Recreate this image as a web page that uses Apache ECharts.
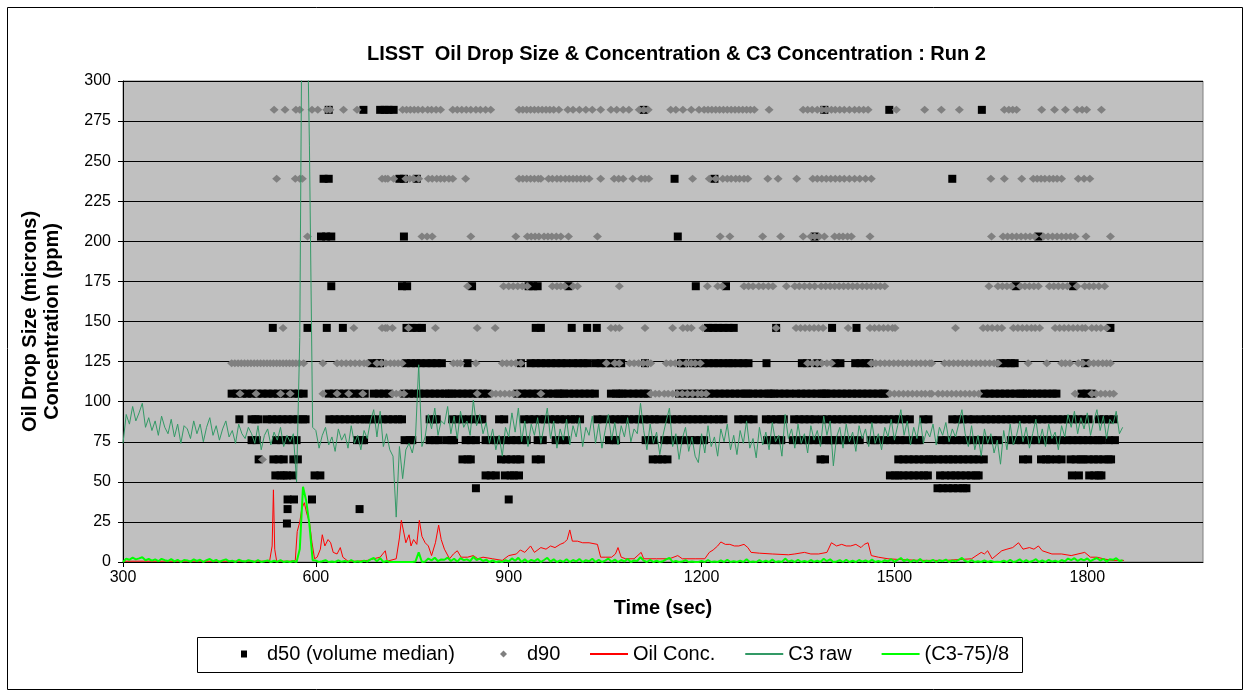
<!DOCTYPE html>
<html><head><meta charset="utf-8">
<script src="https://cdn.jsdelivr.net/npm/echarts@6/dist/echarts.min.js"></script>
<style>html,body{margin:0;padding:0;background:#fff}#c{width:1251px;height:698px}</style>
</head><body><div id="c"></div>
<script>
// ---------- DATA ----------
const xTickLabels = [300, 600, 900, 1200, 1500, 1800];
const yTickStep = 25;

// C3 raw, sampled every 5 s from 300 s
const c3Start = 300, c3Step = 5;
const c3Raw = [
 74,92,86,97,88,93,99,84,90,82,88,79,91,84,80,89,78,86,74,85,
 83,77,88,80,86,75,84,90,79,85,76,83,88,78,82,74,86,80,77,84,
 80,74,85,70,79,83,73,81,76,84,72,79,75,80,50,140,450,380,260,84,
 82,71,79,84,73,78,69,83,76,80,71,85,74,79,70,82,77,88,95,78,
 94,72,80,70,66,28,72,52,70,74,68,78,123,72,78,92,83,96,79,88,
 86,97,80,91,77,94,84,88,79,101,85,92,80,87,74,83,70,79,66,84,
 78,93,81,96,75,88,72,86,79,90,74,85,96,77,88,71,83,76,89,73,
 85,78,90,72,84,79,91,74,86,71,82,92,76,87,73,85,78,90,75,83,
 80,99,82,70,86,74,81,67,79,88,96,72,80,64,77,84,69,78,66,62,
 80,68,85,72,78,66,83,75,86,70,79,67,82,74,88,71,77,65,84,73,
 81,70,87,75,79,66,92,77,83,71,86,74,80,68,85,76,82,72,91,79,
 88,60,78,84,71,86,75,81,69,85,77,83,72,87,74,80,70,84,78,89,
 76,85,95,79,88,73,84,77,90,74,82,78,86,73,84,79,87,75,83,78,
 86,95,80,72,85,70,79,66,83,74,80,68,76,61,82,70,86,73,79,88,
 75,84,71,80,89,74,83,72,86,77,81,70,85,78,92,84,94,80,90,83,
 93,79,88,95,82,91,77,89,86,94,80,84
];

// Oil concentration (ppm)
const oilTime = [300,400,500,528,532,534,536,539,560,568,571,575,578,582,586,590,594,598,602,607,610,614,619,623,627,633,638,642,650,665,680,690,700,708,711,725,730,733,736,740,745,748,752,757,761,765,770,775,780,786,791,795,800,808,814,820,826,836,845,852,860,875,890,900,912,918,925,934,940,950,958,965,972,980,986,991,995,999,1007,1015,1025,1038,1043,1050,1060,1066,1070,1075,1082,1095,1106,1110,1130,1150,1163,1170,1190,1205,1212,1218,1225,1230,1237,1244,1251,1258,1266,1272,1277,1290,1310,1335,1345,1360,1370,1382,1395,1402,1410,1418,1425,1432,1440,1448,1453,1459,1464,1475,1490,1510,1540,1580,1620,1635,1640,1645,1652,1667,1675,1684,1693,1700,1710,1717,1724,1730,1745,1760,1775,1796,1805,1815,1825,1838,1857];
const oilConc = [0.5,0.5,0.5,0.5,10,45,8,0.5,0.5,1,19,25,33,37,30,25,12,2,3,8,17,10,14,12,6,5,9,3,0.5,0.5,1,2,3,7,0.5,2,15,26,20,12,17,10,14,11,26,16,12,10,4,12,23,14,8,2,5,7,3,3,4,2,3,2,1,4,5,7.5,6,10,6,9,8,10,9,11,12,14,20,13,13,12,12,11,3,3,3,5,9,3,2,2,6,2,2,2,4,2,2,2,6,7.5,10,12.5,11,11,10,10,11,9,6,5.5,5,4.5,5,6,5,5,6,12,10,11,10,10,11,9,11,12,4,3,2,1.5,1,1,2,6,5,7,2,7,8,9,12,8,9,8,10,7,5,5,4,6,3,3,2,1,1];

// d50 (volume median) times per size bin (microns)
const d50_282 = [620,674,700,707,713,721,1110,1391,1492,1636];
const d50_239 = [612,620,730,737,757,1158,1220,1590];
const d50_203 = [608,616,624,737,1163,1376,1724];
const d50_172 = [624,734,742,843,931,938,945,993,1191,1238,1689,1778];
const d50_146 = [533,587,617,642,741,749,757,765,942,950,998,1022,1037,1210,1218,1226,1234,1242,1250,1316,1403,1441,1836];
const d50_124 = [687,695,700,740,748,756,763,772,780,788,796,836,919,934,942,950,958,966,974,982,990,1000,1008,1016,1023,1035,1043,1051,1059,1067,1075,1112,1168,1173,1187,1195,1203,1211,1219,1226,1234,1242,1248,1257,1265,1273,1301,1356,1364,1380,1408,1416,1439,1447,1455,1461,1665,1673,1681,1687,1797];
const d50_105 = [469,477,485,493,501,509,517,525,533,541,549,557,565,573,581,620,628,636,644,652,660,668,676,690,698,706,714,737,745,753,761,769,777,785,793,801,807,812,820,828,836,844,852,860,867,913,921,929,937,945,953,961,969,977,981,986,994,1002,1010,1018,1026,1034,1059,1067,1072,1077,1085,1094,1102,1110,1116,1165,1175,1185,1194,1204,1212,1220,1228,1236,1244,1252,1260,1268,1272,1280,1288,1296,1304,1308,1313,1321,1329,1337,1347,1355,1363,1371,1379,1387,1391,1394,1402,1410,1418,1426,1434,1442,1450,1458,1466,1474,1482,1485,1640,1648,1656,1664,1672,1680,1688,1696,1700,1706,1714,1722,1730,1738,1746,1752,1791,1799,1807];
const d50_89 = [481,500,506,511,524,532,540,548,556,564,572,580,584,621,629,637,645,653,661,669,676,682,688,696,704,712,720,728,734,777,785,788,812,820,828,838,846,854,859,885,893,924,932,940,948,956,964,972,980,988,997,1003,1011,1038,1046,1058,1066,1074,1080,1087,1095,1103,1111,1119,1127,1134,1146,1154,1162,1170,1178,1186,1194,1202,1210,1219,1227,1234,1257,1265,1273,1281,1300,1308,1316,1324,1328,1344,1352,1360,1368,1376,1387,1395,1403,1411,1419,1427,1435,1443,1451,1459,1467,1475,1483,1491,1499,1507,1516,1524,1545,1553,1590,1598,1606,1615,1623,1634,1642,1650,1658,1666,1674,1682,1690,1698,1706,1714,1722,1730,1738,1746,1754,1762,1770,1778,1786,1794,1802,1818,1826,1834,1841];
const d50_76 = [500,508,538,546,554,562,570,664,672,675,738,746,750,777,785,791,803,811,815,833,841,849,864,872,880,888,896,904,912,920,928,945,953,973,981,989,1056,1064,1067,1113,1121,1126,1142,1150,1158,1166,1174,1182,1190,1198,1204,1302,1310,1318,1324,1342,1350,1358,1366,1374,1382,1390,1398,1402,1406,1415,1421,1429,1437,1446,1463,1470,1474,1485,1493,1501,1509,1517,1528,1536,1539,1573,1581,1589,1597,1605,1613,1621,1629,1637,1645,1653,1661,1681,1689,1697,1705,1713,1721,1729,1737,1745,1753,1761,1769,1777,1785,1793,1801,1809,1817,1822,1834,1843];
const d50_64 = [511,534,542,550,565,572,828,836,841,888,896,904,912,918,942,950,1124,1132,1139,1147,1385,1392,1506,1514,1522,1530,1538,1546,1554,1559,1568,1576,1584,1591,1599,1607,1615,1623,1631,1639,1700,1708,1728,1736,1742,1752,1760,1774,1782,1790,1794,1802,1810,1817,1825,1833,1837];
const d50_54 = [537,545,550,555,564,598,607,864,872,880,894,903,908,916,1493,1501,1506,1514,1522,1530,1538,1546,1552,1571,1579,1588,1595,1603,1611,1619,1627,1631,1776,1787,1803,1811,1818,1822];
const d50_46 = [849,1567,1575,1583,1591,1599,1607,1612];
const d50_39 = [556,566,594,900];
const d50_33 = [556,668];
const d50_24 = [555];

// d90 times per size bin (microns)
const d90_282 = [535,552,569,575,594,603,617,622,643,664,735,741,747,753,759,766,774,780,787,794,813,820,827,834,841,849,856,864,872,916,922,928,934,940,946,952,958,964,970,978,992,1000,1010,1020,1030,1043,1059,1068,1078,1087,1103,1110,1117,1152,1160,1171,1184,1196,1204,1210,1216,1222,1228,1234,1240,1246,1252,1258,1264,1270,1276,1282,1305,1358,1365,1372,1380,1387,1394,1402,1408,1415,1422,1430,1438,1445,1452,1459,1503,1547,1573,1601,1671,1678,1684,1690,1729,1749,1766,1784,1792,1799,1822];
const d90_239 = [539,568,575,579,703,708,712,721,740,746,752,760,775,781,788,794,800,807,813,833,916,922,928,934,940,946,950,962,968,975,981,988,994,1000,1006,1012,1018,1025,1043,1064,1071,1078,1093,1106,1112,1118,1186,1212,1222,1233,1240,1246,1253,1259,1266,1272,1303,1319,1348,1373,1380,1387,1394,1401,1408,1415,1422,1430,1438,1446,1455,1464,1650,1671,1698,1716,1722,1728,1734,1741,1747,1753,1760,1786,1795,1804];
const d90_203 = [587,765,773,781,841,911,929,935,941,947,955,961,967,974,981,993,1038,1229,1244,1295,1323,1358,1370,1376,1383,1391,1407,1414,1420,1427,1433,1462,1651,1669,1676,1683,1690,1697,1704,1711,1718,1732,1739,1746,1753,1760,1767,1774,1781,1798,1836];
const d90_172 = [836,892,900,907,914,921,929,968,975,981,987,1000,1007,1072,1209,1225,1232,1266,1273,1280,1289,1296,1304,1311,1332,1345,1352,1360,1368,1376,1386,1393,1400,1407,1414,1421,1428,1435,1442,1450,1457,1464,1471,1478,1485,1647,1661,1668,1675,1682,1696,1703,1710,1717,1724,1741,1748,1755,1762,1769,1784,1796,1803,1810,1818,1827];
const d90_146 = [549,659,703,708,711,719,744,786,851,879,1059,1066,1072,1112,1155,1171,1178,1184,1202,1316,1347,1354,1361,1368,1375,1382,1389,1428,1462,1469,1476,1483,1490,1497,1501,1595,1638,1645,1652,1660,1667,1685,1692,1699,1706,1713,1719,1726,1750,1757,1764,1771,1778,1785,1792,1797,1807,1814,1821,1830];
const d90_124 = [469,474,479,484,489,494,499,504,509,514,519,524,529,534,539,544,549,554,559,564,569,574,581,611,633,640,647,654,661,668,675,680,695,702,709,716,722,728,734,814,820,825,849,890,897,904,911,919,1052,1065,1072,1088,1095,1102,1109,1116,1121,1145,1152,1159,1166,1176,1184,1190,1198,1365,1372,1380,1387,1395,1402,1464,1471,1478,1485,1492,1499,1506,1513,1520,1527,1534,1541,1548,1555,1558,1578,1585,1592,1599,1606,1613,1620,1627,1634,1641,1648,1655,1661,1708,1737,1760,1766,1773,1786,1793,1803,1810,1817,1824,1830,1836];
const d90_105 = [482,507,545,560,611,633,651,673,719,725,731,737,851,874,880,887,894,901,907,913,950,1121,1128,1134,1142,1148,1155,1162,1170,1178,1186,1194,1200,1207,1493,1500,1507,1514,1521,1528,1535,1542,1548,1555,1558,1568,1575,1582,1589,1596,1603,1610,1617,1624,1631,1781,1807,1814,1821,1828,1835,1841];
const d90_64 = [517];

// ---------- BUILD ----------
const FONT = '"Liberation Sans", Arial, sans-serif';
function pts(times, lvl) { return times.map(t => [t, lvl]); }
const d50Data = [].concat(
  pts(d50_282,282), pts(d50_239,239), pts(d50_203,203), pts(d50_172,172), pts(d50_146,146),
  pts(d50_124,124), pts(d50_105,105), pts(d50_89,89), pts(d50_76,76), pts(d50_64,64),
  pts(d50_54,54), pts(d50_46,46), pts(d50_39,39), pts(d50_33,33), pts(d50_24,24));
const d90Data = [].concat(
  pts(d90_282,282), pts(d90_239,239), pts(d90_203,203), pts(d90_172,172), pts(d90_146,146),
  pts(d90_124,124), pts(d90_105,105), pts(d90_64,64));
const oilData = oilTime.map((t, i) => [t, oilConc[i]]);
const c3Data = c3Raw.map((v, i) => [c3Start + i * c3Step, v]);
const c3ScaledData = c3Raw.map((v, i) => [c3Start + i * c3Step, Math.max(0, (v - 75) / 8)]);

const chart = echarts.init(document.getElementById('c'), null, { renderer: 'canvas' });
const legendText = { fontFamily: FONT, fontSize: 20, color: '#000' };
chart.setOption({
  animation: false,
  backgroundColor: '#fff',
  textStyle: { fontFamily: FONT },
  title: {
    text: 'LISST  Oil Drop Size & Concentration & C3 Concentration : Run 2',
    left: 367, top: 44, padding: 0,
    textStyle: { fontFamily: FONT, fontSize: 20, fontWeight: 'bold', color: '#000' }
  },
  graphic: [
    { type: 'rect', shape: { x: 7.5, y: 7.5, width: 1235, height: 682 },
      style: { fill: 'none', stroke: '#000', lineWidth: 1 }, silent: true },
    { type: 'rect', shape: { x: 197.5, y: 637.5, width: 825, height: 35 },
      style: { fill: 'none', stroke: '#000', lineWidth: 1 }, silent: true }
  ],
  legend: [
    { data: [{ name: 'd50 (volume median)', icon: 'rect' }], left: 241, top: 644, padding: 0,
      itemWidth: 6, itemHeight: 7, itemStyle: { opacity: 1 },
      textStyle: Object.assign({ padding: [0, 0, 0, 15] }, legendText), selectedMode: false },
    { data: [{ name: 'd90', icon: 'diamond' }], left: 500, top: 644, padding: 0,
      itemWidth: 7, itemHeight: 7, itemStyle: { opacity: 1 },
      textStyle: Object.assign({ padding: [0, 0, 0, 15] }, legendText), selectedMode: false },
    { data: [{ name: 'Oil Conc.', icon: 'rect' }, { name: 'C3 raw', icon: 'rect' }, { name: '(C3-75)/8', icon: 'rect' }],
      left: 590, top: 644, padding: 0, itemWidth: 38, itemHeight: 2, itemGap: 30,
      textStyle: legendText, selectedMode: false }
  ],
  grid: { left: 123, top: 81, width: 1080, height: 481, show: true, backgroundColor: '#C0C0C0',
          borderColor: '#808080', borderWidth: 1 },
  xAxis: {
    type: 'value', min: xTickLabels[0], max: 1980, interval: 300,
    axisLine: { show: true, onZero: false, lineStyle: { color: '#000', width: 1 } },
    axisTick: { show: true, length: 5, lineStyle: { color: '#000' } },
    axisLabel: { fontFamily: FONT, fontSize: 16, color: '#000', margin: 8, showMaxLabel: false,
      formatter: v => (xTickLabels.indexOf(v) >= 0 ? String(v) : '') },
    splitLine: { show: false },
    name: 'Time (sec)', nameLocation: 'middle', nameGap: 36,
    nameTextStyle: { fontFamily: FONT, fontSize: 20, fontWeight: 'bold', color: '#000' }
  },
  yAxis: {
    type: 'value', min: 0, max: 300, interval: yTickStep,
    axisLine: { show: true, lineStyle: { color: '#000', width: 1 } },
    axisTick: { show: true, length: 5, lineStyle: { color: '#000' } },
    axisLabel: { fontFamily: FONT, fontSize: 16, color: '#000', margin: 12 },
    splitLine: { show: true, lineStyle: { color: '#000', width: 1 } },
    name: 'Oil Drop Size (microns)\nConcentration (ppm)', nameLocation: 'middle', nameGap: 60, nameRotate: 90,
    nameTextStyle: { fontFamily: FONT, fontSize: 20, fontWeight: 'bold', color: '#000', lineHeight: 22 }
  },
  series: [
    { name: 'd50 (volume median)', type: 'scatter', data: d50Data, symbol: 'rect', symbolSize: 8,
      itemStyle: { color: '#000', opacity: 1 } },
    { name: 'd90', type: 'scatter', data: d90Data, symbol: 'diamond', symbolSize: [9, 8],
      itemStyle: { color: '#808080', opacity: 1 } },
    { name: 'Oil Conc.', type: 'line', data: oilData, showSymbol: false, symbol: 'none',
      lineStyle: { color: '#FF0000', width: 1 }, itemStyle: { color: '#FF0000' } },
    { name: 'C3 raw', type: 'line', data: c3Data, showSymbol: false, symbol: 'none',
      lineStyle: { color: '#339966', width: 1 }, itemStyle: { color: '#339966' } },
    { name: '(C3-75)/8', type: 'line', data: c3ScaledData, showSymbol: false, symbol: 'none',
      lineStyle: { color: '#00FF00', width: 2 }, itemStyle: { color: '#00FF00' } }
  ]
});
</script></body></html>
